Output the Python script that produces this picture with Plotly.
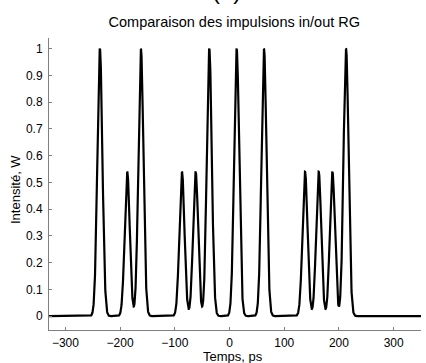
import numpy as np
import plotly.graph_objects as go

# Pulse centres (ps) and peak intensities (W)
centres = [-237, -187, -162, -87, -62, -37, 13, 63, 138, 163, 188, 213]
peaks = [1.0, 0.54, 1.0, 0.54, 0.54, 1.0, 1.0, 1.0, 0.54, 0.54, 0.54, 1.0]
width_ps = 4.6  # gaussian sigma of each pulse

x_ticks = [-300, -200, -100, 0, 100, 200, 300]
y_ticks = [round(0.1 * i, 1) for i in range(11)]

t = np.linspace(-330, 350, 4000)
intensity = np.zeros_like(t)
for c, a in zip(centres, peaks):
    intensity += a * np.exp(-((t - c) ** 2) / (2 * width_ps ** 2))

FONT = "Liberation Sans, Arial"

fig = go.Figure()
fig.add_trace(go.Scatter(x=t, y=intensity, mode="lines",
                         line=dict(color="black", width=2.2),
                         showlegend=False, hoverinfo="skip"))

axis_style = dict(showgrid=False, zeroline=False, showline=True,
                  linecolor="#7f7f7f", linewidth=1, ticks="inside",
                  ticklen=3, tickcolor="#7f7f7f", mirror=False, automargin=False,
                  tickfont=dict(family=FONT, size=12, color="black"))

fig.update_xaxes(range=[-330, 350], tickvals=x_ticks, ticklabelstandoff=2, **axis_style)
fig.update_yaxes(range=[-0.052, 1.04], tickvals=y_ticks,
                 ticktext=[f"{v:g}" for v in y_ticks], ticklabelstandoff=3, **axis_style)

fig.update_layout(
    width=426, height=363,
    margin=dict(l=49, r=5, t=38, b=33),
    paper_bgcolor="white", plot_bgcolor="white",
    title=dict(text="Comparaison des impulsions in/out RG", x=0.55, xanchor="center",
               xref="container", y=1 - 22 / 363, yanchor="middle",
               font=dict(family=FONT, size=14.5, color="black")),
)

# axis titles
fig.add_annotation(text="Temps, ps", xref="paper", yref="paper", x=(233 - 49) / 372,
                   y=0, yshift=-26, xanchor="center", yanchor="middle", showarrow=False,
                   font=dict(family=FONT, size=13, color="black"))
fig.add_annotation(text="Intensité, W", xref="paper", yref="paper", x=0, xshift=-34,
                   y=(330 - 190) / 292, xanchor="center", yanchor="middle", textangle=-90,
                   showarrow=False, font=dict(family=FONT, size=13, color="black"))

# panel label, mostly cut off at the top edge
fig.add_annotation(text="(a)", xref="paper", yref="paper", x=(226 - 49) / 372, y=1.0,
                   yshift=32, xanchor="center", yanchor="bottom", showarrow=False,
                   font=dict(family=FONT, size=24, color="black"))

# drop the default page margin so the figure sits at the window corner
fig.write_html("out.html", config={"displayModeBar": False},
               post_script="document.body.style.margin='0';")
